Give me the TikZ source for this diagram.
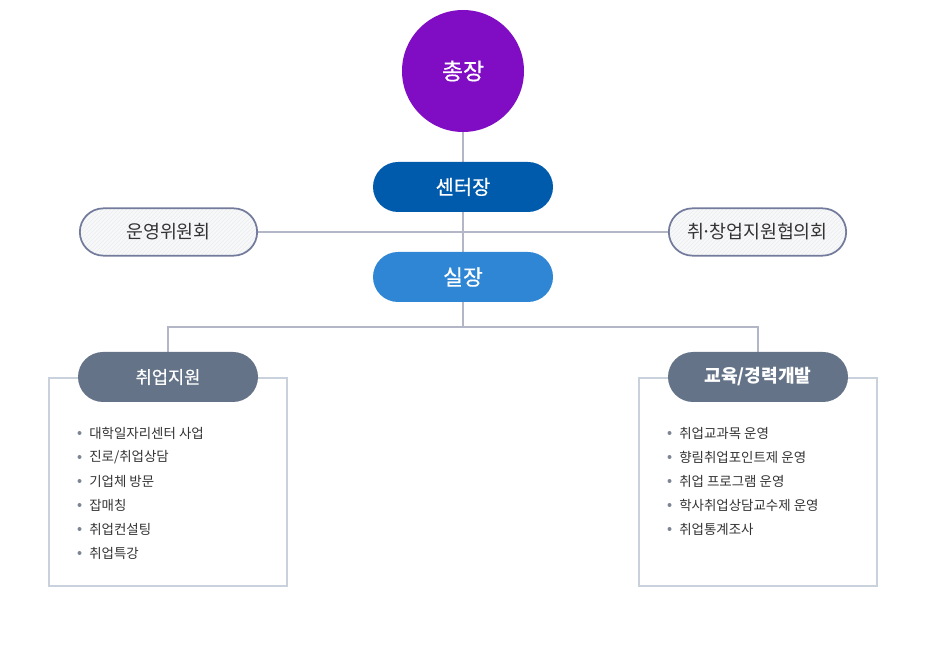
\documentclass[tikz,border=0pt]{standalone}
\usepackage{fontspec}
\setmainfont{Noto Sans CJK KR}
\newfontfamily\headfont{Noto Sans CJK KR}[FakeBold=0.5]
\usepackage{tikz}
\usetikzlibrary{positioning,shapes.misc,patterns,backgrounds}
\definecolor{presPurple}{HTML}{800CC4}
\definecolor{headBlue}{HTML}{005BAC}
\definecolor{chiefBlue}{HTML}{2E86D4}
\definecolor{teamSlate}{HTML}{647387}
\definecolor{cmtEdge}{HTML}{737B9C}
\definecolor{cmtFill}{HTML}{F7F8FA}
\definecolor{linkGray}{HTML}{B3B6C6}
\definecolor{boxEdge}{HTML}{C9D1DC}
\definecolor{itemText}{HTML}{333333}
\definecolor{dotGray}{HTML}{7D8595}
\tikzset{
  orgcircle/.style={circle, fill=presPurple, text=white,
    minimum size=91.5pt, inner sep=0pt, font=\headfont\fontsize{17.2}{20}\selectfont},
  orgpill/.style={rounded rectangle, minimum width=135pt,
    minimum height=37.5pt, inner sep=0pt, text=white},
  cmtpill/.style={rounded rectangle, draw=cmtEdge, line width=1.3pt,
    preaction={fill=cmtFill}, pattern=north east lines, pattern color=black!7,
    minimum width=133pt, minimum height=35.5pt, inner sep=0pt,
    text=black!80, font=\fontsize{13.8}{16}\selectfont},
  teambox/.style={draw=boxEdge, line width=1.4pt},
  orgitem/.style={anchor=west, inner sep=0pt, text=itemText,
    font=\fontsize{10.1}{12}\selectfont},
  orglink/.style={draw=linkGray, line width=0.8pt},
}
\begin{document}
\begin{tikzpicture}[x=0.75pt, y=-0.75pt]
  \useasboundingbox (0,0) rectangle (936,648);
  % top of the chart
  \node[orgcircle] at (463,71) (pres) {총장};
  \node[orgpill, fill=headBlue, font=\headfont\fontsize{14.9}{17}\selectfont] at (463,187) (head) {센터장};
  \node[orgpill, fill=chiefBlue, font=\headfont\fontsize{16.2}{19}\selectfont] at (463,277) (chief) {실장};
  % committees
  \node[cmtpill] at (168.5,232) (opcmt) {운영위원회};
  \node[cmtpill] at (757.5,232) (jobcmt) {취\kern-0.14em·\kern-0.14em창업지원협의회};
  % team headers
  \node[orgpill, fill=teamSlate, font=\headfont\fontsize{13.2}{15}\selectfont] at (168,377) (jobteam) {취업지원};
  \node[orgpill, fill=teamSlate, font=\bfseries\fontsize{13.6}{15}\selectfont] at (758,377) (eduteam) {교육/경력개발};
  \coordinate (split) at (463,327);
  % links and boxes behind the nodes
  \begin{scope}[on background layer]
    \draw[teambox] (49,378) rectangle (287,586);
    \draw[teambox] (639,378) rectangle (877,586);
    \path[orglink] (opcmt.east) -- (jobcmt.west);
    \path[orglink] (pres.south) -- (head.north);
    \path[orglink] (head.south) -- (chief.north);
    \path[orglink] (chief.south) -- (split);
    \path[orglink] (split) -| (jobteam.north);
    \path[orglink] (split) -| (eduteam.north);
  \end{scope}
  % lists
  \foreach \txt [count=\i] in {대학일자리센터 사업, 진로/취업상담, 기업체 방문, 잡매칭, 취업컨설팅, 취업특강} {
    \fill[dotGray] (79.5,{409+24*\i}) circle (2);
    \node[orgitem] at (89,{409+24*\i}) (jobitem\i) {\txt};
  }
  \foreach \txt [count=\i] in {취업교과목 운영, 향림취업포인트제 운영, 취업 프로그램 운영, 학사취업상담교수제 운영, 취업통계조사} {
    \fill[dotGray] (669.5,{409+24*\i}) circle (2);
    \node[orgitem] at (679,{409+24*\i}) (eduitem\i) {\txt};
  }
\end{tikzpicture}
\end{document}
